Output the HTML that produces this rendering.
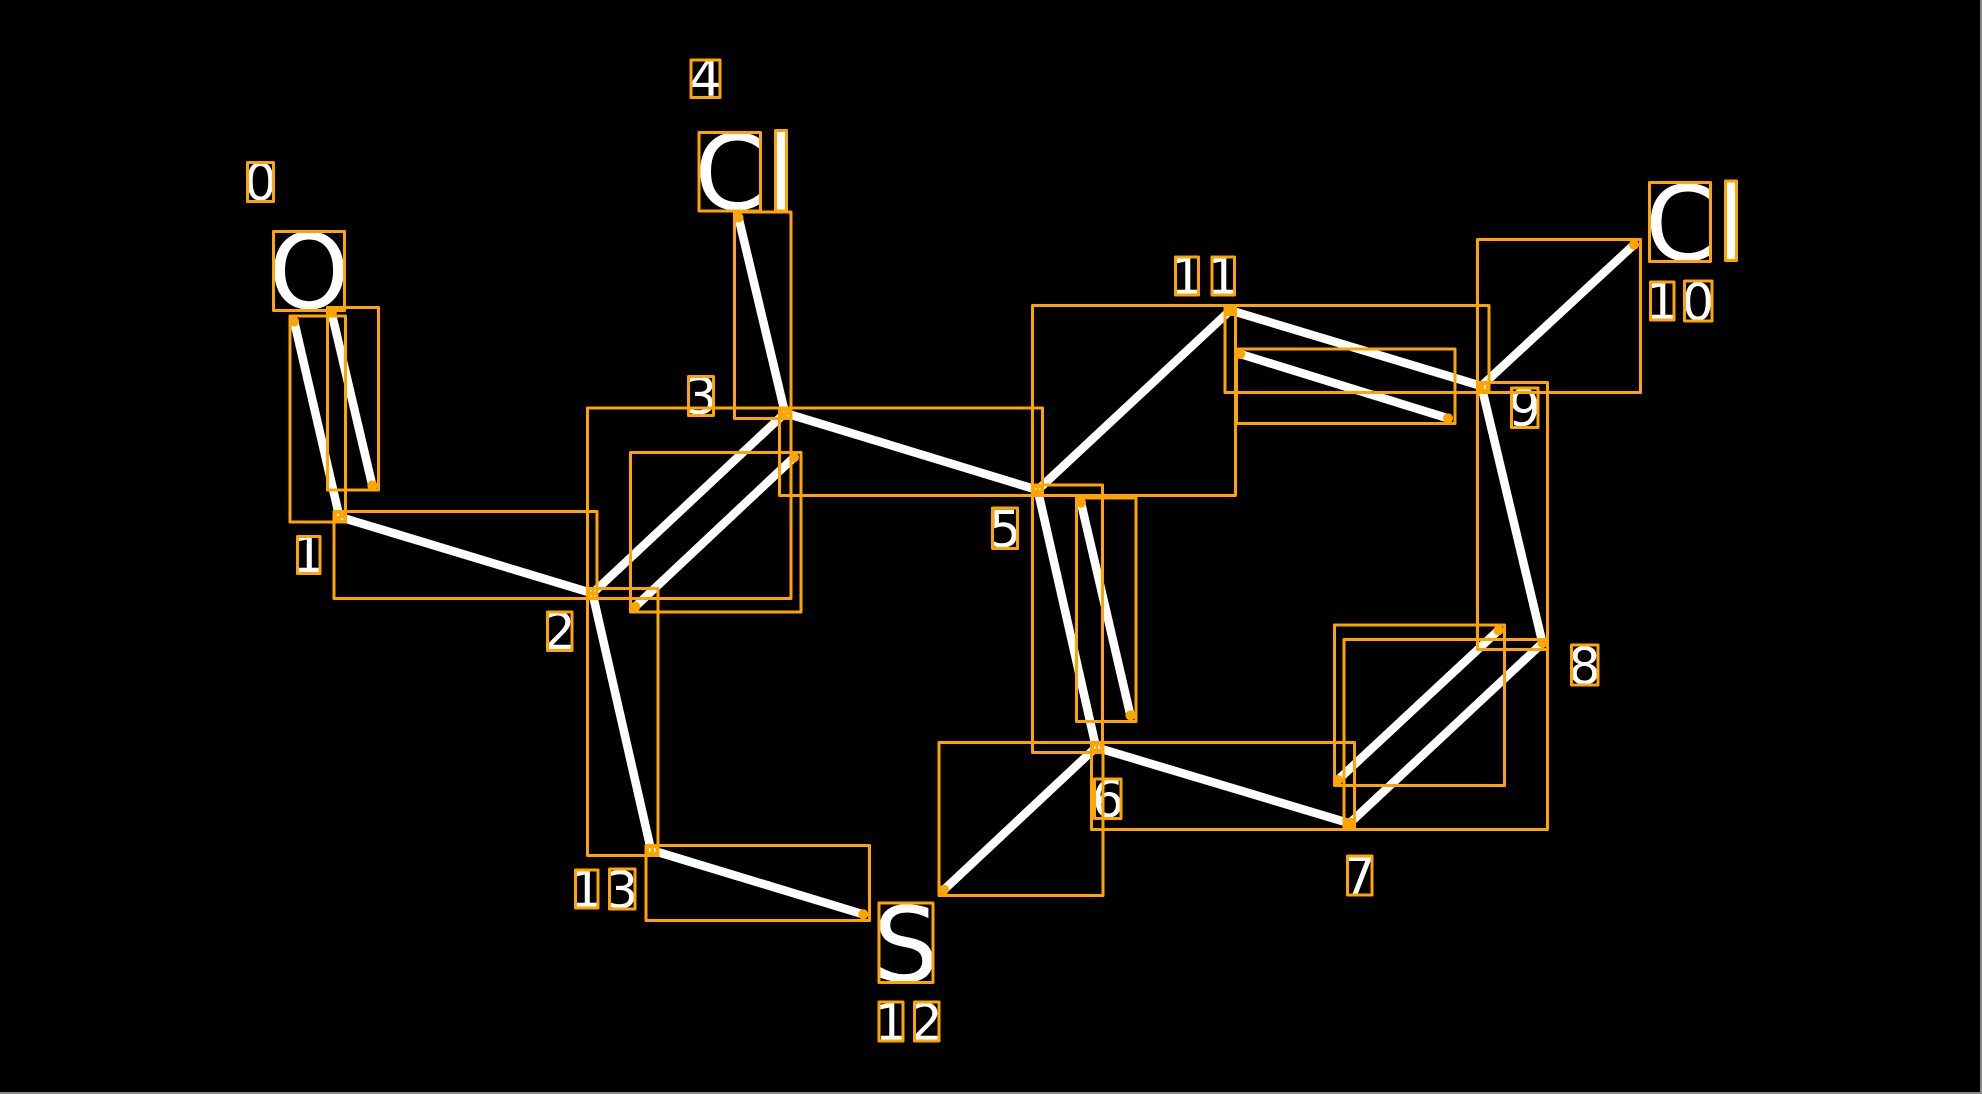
<!DOCTYPE html>
<html>
<head>
<meta charset="utf-8">
<style>
html,body{margin:0;padding:0;background:#000;}
svg{display:block;position:absolute;left:0;top:0;}
text{font-family:"DejaVu Sans","Liberation Sans",sans-serif;fill:#fff;text-anchor:middle;}
.d{font-size:51px;}
.a{font-size:103px;}
</style>
</head>
<body>
<svg width="1982" height="1094" viewBox="0 0 1982 1094" xmlns="http://www.w3.org/2000/svg">
<rect width="1982" height="1094" fill="#000"/>
<rect x="1980" y="0" width="2" height="1094" fill="#8a8a8a"/>
<rect x="0" y="1092" width="1982" height="2" fill="#8a8a8a"/>

<g stroke="#fff" stroke-width="8.5" stroke-linecap="round" fill="none">
<line x1="294.2" y1="321.6" x2="339.4" y2="516.8"/>
<line x1="331.4" y1="312" x2="372.3" y2="485.4"/>
<line x1="339.4" y1="516.8" x2="592.5" y2="593.3"/>
<line x1="592.5" y1="593.3" x2="785" y2="413"/>
<line x1="635.2" y1="606.7" x2="794" y2="457.4"/>
<line x1="785" y1="413" x2="738.5" y2="217.5"/>
<line x1="785" y1="413" x2="1037.7" y2="490"/>
<line x1="1037.7" y1="490" x2="1096" y2="747.3"/>
<line x1="1081" y1="502.7" x2="1130.4" y2="715.3"/>
<line x1="1096" y1="747.3" x2="944" y2="889.7"/>
<line x1="1096" y1="747.3" x2="1349.6" y2="823.3"/>
<line x1="1349.6" y1="823.3" x2="1542.5" y2="643"/>
<line x1="1337.8" y1="780" x2="1498.5" y2="630.3"/>
<line x1="1542.5" y1="643" x2="1481.4" y2="386"/>
<line x1="1481.4" y1="386" x2="1634" y2="244.7"/>
<line x1="1481.4" y1="386" x2="1230.3" y2="310.3"/>
<line x1="1448" y1="418.3" x2="1240.2" y2="354"/>
<line x1="1230.3" y1="310.3" x2="1037.7" y2="490"/>
<line x1="592.5" y1="593.3" x2="651" y2="850"/>
<line x1="651" y1="850" x2="863.3" y2="914.3"/>
</g>

<text class="a" x="309" y="308">O</text>
<text class="a" x="730.5" y="209">C</text>
<text class="a" x="781" y="210">l</text>
<text class="a" x="1681" y="260">C</text>
<text class="a" x="1731" y="260">l</text>
<text class="a" x="906" y="981">S</text>

<text class="d" x="260.5" y="200">0</text>
<text class="d" x="308.5" y="572">1</text>
<text class="d" x="559.5" y="649">2</text>
<text class="d" x="701" y="414">3</text>
<text class="d" x="705.5" y="96">4</text>
<text class="d" x="1005" y="547">5</text>
<text class="d" x="1108" y="817">6</text>
<text class="d" x="1359.5" y="894">7</text>
<text class="d" x="1584.5" y="684">8</text>
<text class="d" x="1524.5" y="426">9</text>
<text class="d" x="1662" y="319">1</text>
<text class="d" x="1698" y="320">0</text>
<text class="d" x="1187" y="294">1</text>
<text class="d" x="1223" y="294">1</text>
<text class="d" x="891" y="1040">1</text>
<text class="d" x="926.5" y="1040">2</text>
<text class="d" x="586.5" y="907">1</text>
<text class="d" x="622" y="908">3</text>

<g fill="none" stroke="#ffa500" stroke-width="3" stroke-linejoin="round">
<rect x="247.5" y="162.5" width="26" height="39"/>
<rect x="273.5" y="231.5" width="71" height="79"/>
<rect x="290" y="316" width="55.5" height="206"/>
<rect x="327.5" y="307.5" width="51" height="182.5"/>
<rect x="334" y="511.5" width="263" height="87"/>
<rect x="587.5" y="408" width="203.5" height="190.5"/>
<rect x="630.5" y="452.5" width="170.5" height="159.5"/>
<rect x="734.5" y="212" width="56.5" height="206.5"/>
<rect x="699" y="132.5" width="61.5" height="78.5"/>
<rect x="775.5" y="130.5" width="11" height="80.5"/>
<rect x="691" y="60" width="29" height="37.5"/>
<rect x="688.5" y="376.5" width="25" height="39"/>
<rect x="297.5" y="536.5" width="22.5" height="37"/>
<rect x="587.5" y="588.5" width="70.5" height="267"/>
<rect x="547.5" y="612" width="24.5" height="38.5"/>
<rect x="646" y="845.5" width="223.5" height="75"/>
<rect x="575.5" y="870" width="22.5" height="38"/>
<rect x="609.5" y="869" width="25.5" height="40"/>
<rect x="879" y="903" width="54" height="79.5"/>
<rect x="879" y="1002" width="24" height="39"/>
<rect x="914.5" y="1002" width="24.5" height="39"/>
<rect x="939" y="742.5" width="164" height="153"/>
<rect x="1094.5" y="779" width="26.5" height="39.5"/>
<rect x="1344" y="639.5" width="203.5" height="190"/>
<rect x="1091.5" y="742.5" width="263" height="87"/>
<rect x="1334.5" y="625" width="170" height="160.5"/>
<rect x="1477.5" y="382.5" width="70" height="267"/>
<rect x="1347.5" y="856" width="24.5" height="39"/>
<rect x="1571.5" y="645" width="26.5" height="40"/>
<rect x="1032.5" y="485" width="70" height="267.5"/>
<rect x="1076.5" y="498" width="59.5" height="223.5"/>
<rect x="1032.5" y="305.5" width="203" height="190"/>
<rect x="779.5" y="408" width="263" height="87.5"/>
<rect x="992.5" y="508" width="25" height="40.5"/>
<rect x="1649.5" y="182.5" width="61" height="79"/>
<rect x="1725.5" y="181" width="11" height="79.5"/>
<rect x="1650.5" y="282" width="23.5" height="38"/>
<rect x="1684.5" y="281" width="27.5" height="40"/>
<rect x="1175.5" y="257" width="23" height="38"/>
<rect x="1212" y="257" width="22.5" height="38"/>
<rect x="1225" y="305.5" width="264" height="87"/>
<rect x="1236.5" y="349" width="218.5" height="74.5"/>
<rect x="1477.5" y="239.5" width="163" height="153"/>
<rect x="1511.5" y="388" width="26.5" height="39.5"/>
</g>

<g fill="#ffa500">
<circle cx="294.2" cy="321.6" r="5"/>
<circle cx="331.4" cy="312" r="5.5"/>
<circle cx="372.3" cy="485.4" r="5"/>
<circle cx="635.2" cy="606.7" r="5"/>
<circle cx="794" cy="457.4" r="5"/>
<circle cx="738.5" cy="217.5" r="5"/>
<circle cx="1081" cy="502.7" r="5"/>
<circle cx="1130.4" cy="715.3" r="5"/>
<circle cx="944" cy="889.7" r="5"/>
<circle cx="863.3" cy="914.3" r="5"/>
<circle cx="1337.8" cy="780" r="5"/>
<circle cx="1498.5" cy="630.3" r="5"/>
<circle cx="1542.5" cy="643" r="5"/>
<circle cx="1634" cy="244.7" r="5"/>
<circle cx="1240.2" cy="354" r="5"/>
<circle cx="1448" cy="418.3" r="5"/>
<rect x="334" y="511" width="11" height="12"/>
<rect x="587" y="587.5" width="11" height="12"/>
<rect x="779.5" y="407.5" width="11.5" height="11"/>
<rect x="1032.5" y="485" width="10.5" height="10.5"/>
<rect x="1091" y="742" width="11" height="11"/>
<rect x="1344.5" y="818" width="10.5" height="11"/>
<rect x="1477" y="381" width="11.5" height="11"/>
<rect x="1225.5" y="305" width="10" height="11"/>
<rect x="646" y="845" width="11" height="11"/>
</g>

<g fill="#fff">
<rect x="337" y="514" width="2" height="2"/><rect x="341" y="518" width="2" height="2"/>
<rect x="590" y="590" width="1.5" height="1.5"/><rect x="594" y="590" width="1.5" height="1.5"/><rect x="590" y="595" width="1.5" height="1.5"/><rect x="594" y="595" width="1.5" height="1.5"/>
<rect x="783" y="411" width="1.5" height="1.5"/><rect x="787" y="415" width="1.5" height="1.5"/>
<rect x="1035" y="488" width="1.5" height="1.5"/><rect x="1039" y="488" width="1.5" height="1.5"/>
<rect x="1098" y="746" width="1.5" height="3"/><rect x="1094" y="746" width="1.5" height="3"/>
<rect x="1484" y="385" width="1.5" height="4"/>
<rect x="649" y="848" width="1.5" height="4"/><rect x="654" y="848" width="1.5" height="4"/>
</g>
</svg>
</body>
</html>
